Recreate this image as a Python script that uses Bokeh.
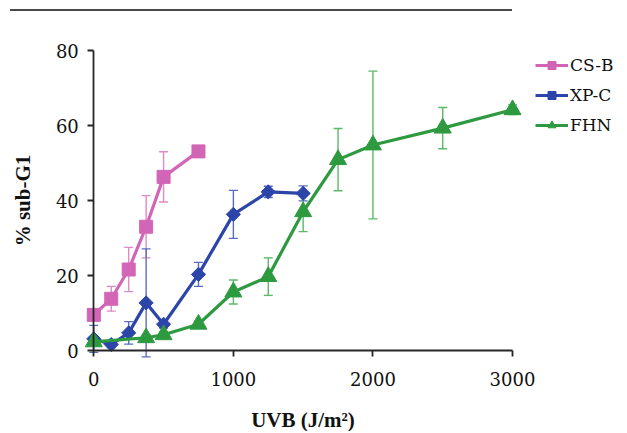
from bokeh.plotting import figure
from bokeh.models import (ColumnDataSource, Whisker, TeeHead, Legend, LegendItem,
                          Div, Range1d, FixedTicker)
from bokeh.layouts import column
from bokeh.embed import file_html
from bokeh.resources import INLINE
import math

# ---- data ----
uvb_csb = [0, 125, 250, 375, 500, 750]
subg1_csb = [9.5, 13.8, 21.6, 33.0, 46.3, 53.1]
err_csb = [1.0, 3.3, 5.9, 8.3, 6.7, 0.8]

uvb_xpc = [0, 125, 250, 375, 500, 750, 1000, 1250, 1500]
subg1_xpc = [3.1, 1.6, 4.7, 12.7, 7.0, 20.3, 36.3, 42.3, 41.9]
err_xpc = [3.6, 0.8, 3.0, 14.4, 1.0, 3.2, 6.4, 1.5, 2.0]

uvb_fhn = [0, 375, 500, 750, 1000, 1250, 1500, 1750, 2000, 2500, 3000]
subg1_fhn = [2.3, 3.4, 4.2, 7.0, 15.6, 19.7, 37.0, 50.9, 54.8, 59.3, 64.2]
err_fhn = [0.8, 0.8, 0.8, 0.8, 3.2, 5.0, 5.3, 8.3, 19.7, 5.5, 1.3]

series_names = ["CS-B", "XP-C", "FHN"]
x_ticks = [0, 1000, 2000, 3000]
y_ticks = [0, 20, 40, 60, 80]
x_label = "UVB (J/m²)"
y_label = "% sub-G1"

PINK, PINK_E = "#d265b6", "#de8ac6"
BLUE, BLUE_E = "#2c45a9", "#5a6cc2"
GREEN, GREEN_E = "#2e9a40", "#5db96a"

# frame fills the whole canvas; axes sit at the data origin
p = figure(width=625, height=420,
           x_range=Range1d(-668.5, 3809.6), y_range=Range1d(-21.6, 90.4),
           min_border_left=0, min_border_top=0, min_border_bottom=0,
           min_border_right=0,
           output_backend="svg", toolbar_location=None)
p.xgrid.visible = False
p.ygrid.visible = False
p.outline_line_color = None
p.background_fill_color = "white"
p.border_fill_color = "white"

AX = "#262626"
for ax in (p.xaxis[0], p.yaxis[0]):
    ax.fixed_location = 0
    ax.axis_line_color = AX
    ax.axis_line_width = 1.8
    ax.major_tick_line_color = AX
    ax.major_tick_line_width = 1.8
    ax.major_tick_out = 6
    ax.major_tick_in = 0
    ax.minor_tick_line_color = None
    ax.major_label_text_font = "DejaVu Serif"
    ax.major_label_text_font_size = "18px"
    ax.major_label_text_color = "#111111"
    ax.axis_label_text_font = "Liberation Serif"
    ax.axis_label_text_font_size = "21px"
    ax.axis_label_text_font_style = "bold"
    ax.axis_label_text_color = "#111111"

p.xaxis[0].bounds = (0, 3000)
p.yaxis[0].bounds = (0, 80)
p.xaxis[0].ticker = FixedTicker(ticks=x_ticks)
p.yaxis[0].ticker = FixedTicker(ticks=y_ticks)
p.xaxis[0].major_label_standoff = 15
p.yaxis[0].major_label_standoff = 9
p.xaxis[0].axis_label = x_label
p.yaxis[0].axis_label = y_label
p.xaxis[0].axis_label_standoff = 19
p.yaxis[0].axis_label_standoff = 18


def add_series(xs, ys, es, color, ecolor, marker, size, angle=0.0):
    src = ColumnDataSource(dict(x=xs, y=ys,
                                upper=[y + e for y, e in zip(ys, es)],
                                lower=[y - e for y, e in zip(ys, es)]))
    w = Whisker(source=src, base="x", upper="upper", lower="lower",
                line_color=ecolor, line_width=1.4, level="underlay",
                upper_head=TeeHead(size=9, line_color=ecolor, line_width=1.4),
                lower_head=TeeHead(size=9, line_color=ecolor, line_width=1.4))
    p.add_layout(w)
    ln = p.line("x", "y", source=src, line_color=color, line_width=3.2)
    sc = p.scatter("x", "y", source=src, marker=marker, size=size,
                   fill_color=color, line_color=color, angle=angle)
    return [ln, sc]


r_csb = add_series(uvb_csb, subg1_csb, err_csb, PINK, PINK_E, "square", 13)
r_xpc = add_series(uvb_xpc, subg1_xpc, err_xpc, BLUE, BLUE_E, "square", 10,
                   angle=math.pi / 4)
r_fhn = add_series(uvb_fhn, subg1_fhn, err_fhn, GREEN, GREEN_E, "triangle", 17)

legend = Legend(items=[LegendItem(label=series_names[0], renderers=r_csb),
                       LegendItem(label=series_names[1], renderers=r_xpc),
                       LegendItem(label=series_names[2], renderers=r_fhn)],
                location=(535, 296))
legend.border_line_color = None
legend.background_fill_alpha = 0
legend.padding = 0
legend.margin = 0
legend.glyph_width = 33
legend.glyph_height = 20
legend.label_standoff = 2
legend.spacing = 10
legend.label_text_font = "DejaVu Serif"
legend.label_text_font_size = "17px"
legend.label_text_color = "#111111"
p.add_layout(legend, "center")

top_rule = Div(text="", width=502, height=2, margin=(9, 0, 0, 10),
               styles={"background-color": "#4a4a4a"})

layout = column(top_rule, p, spacing=0)

open("out.html", "w").write(file_html(layout, INLINE))
